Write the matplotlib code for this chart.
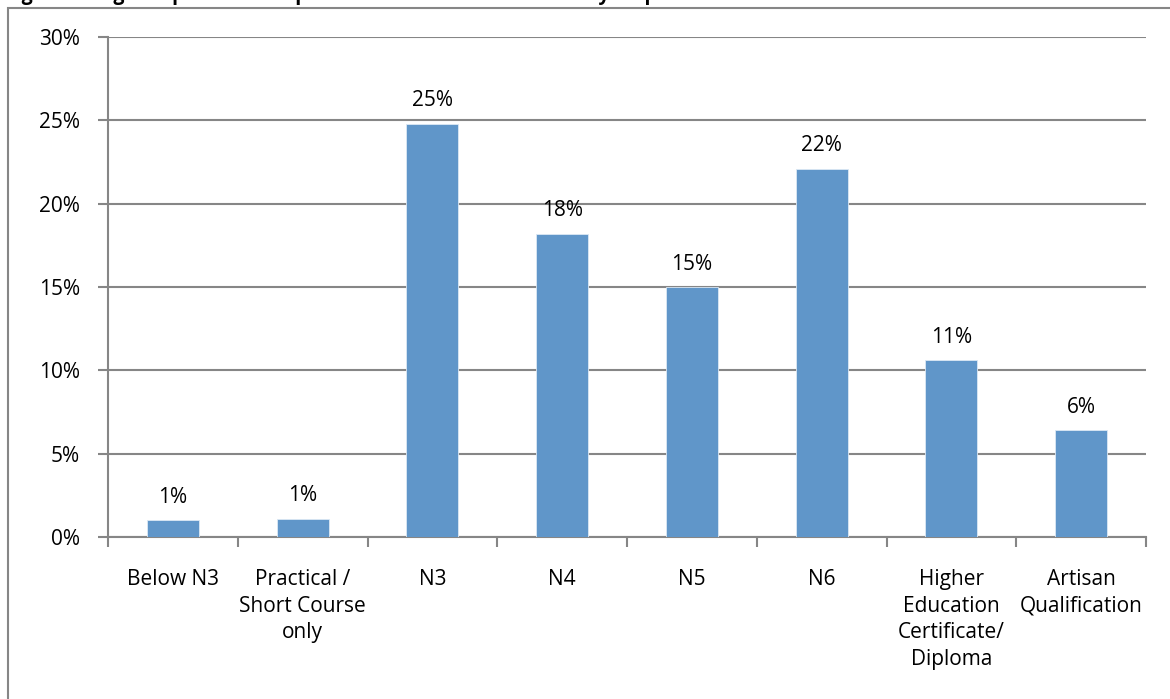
import numpy as np
import matplotlib.pyplot as plt
from matplotlib.patches import Rectangle
from matplotlib.ticker import FuncFormatter, MultipleLocator

plt.rcParams['font.family'] = ['Open Sans', 'DejaVu Sans']

categories = ["Below N3", "Practical /\nShort Course\nonly", "N3", "N4", "N5", "N6",
              "Higher\nEducation\nCertificate/\nDiploma", "Artisan\nQualification"]
shares = [1.0, 1.1, 24.8, 18.2, 15.0, 22.1, 10.6, 6.4]   # percent of respondents
title = "Figure 8: Highest post-school qualification of the tracer survey respondents"

W, H = 1170, 699
fig = plt.figure(figsize=(W / 100, H / 100), dpi=100)
ax = fig.add_axes([108 / W, (H - 537) / H, (1146 - 108) / W, 500 / H])

grey = "#868686"
x = np.arange(len(categories))
ax.bar(x, shares, width=0.4, color="#6096C9", edgecolor="#DCE8F4", linewidth=0.6, zorder=3)

for xi, v in zip(x, shares):
    ax.annotate(f"{v:.0f}%", (xi, v), xytext=(0, 9), textcoords="offset points",
                ha="center", va="bottom", fontsize=15)

ax.set_xlim(-0.5, len(categories) - 0.5)
ax.set_ylim(0, 30)
ax.yaxis.set_major_locator(MultipleLocator(5))
ax.yaxis.set_major_formatter(FuncFormatter(lambda v, p: f"{v:.0f}%"))
ax.grid(axis="y", color=grey, linewidth=1.5, zorder=0)

# category ticks sit between the bars
ax.set_xticks(x)
ax.set_xticklabels(categories, fontsize=15, linespacing=1.36, va="top")
ax.set_xticks(np.arange(len(categories) + 1) - 0.5, minor=True)
ax.tick_params(axis="x", which="major", length=0, pad=23)
ax.tick_params(axis="x", which="minor", length=7, width=1.5, color=grey, direction="out")
ax.tick_params(axis="y", length=7, width=1.5, color=grey, labelsize=15, pad=13)

for side in ("top", "right"):
    ax.spines[side].set_visible(False)
for side in ("left", "bottom"):
    ax.spines[side].set_color(grey)
    ax.spines[side].set_linewidth(1.5)

# outer chart border
fig.patches.append(Rectangle((8 / W, -0.1), 1.2, 1.1 - 8 / H, transform=fig.transFigure,
                             fill=False, edgecolor=grey, linewidth=1.5))
fig.text(5 / W, 1.0, title, fontsize=14, fontweight="bold", va="baseline", ha="left")

fig.savefig("out.png", dpi=100)
